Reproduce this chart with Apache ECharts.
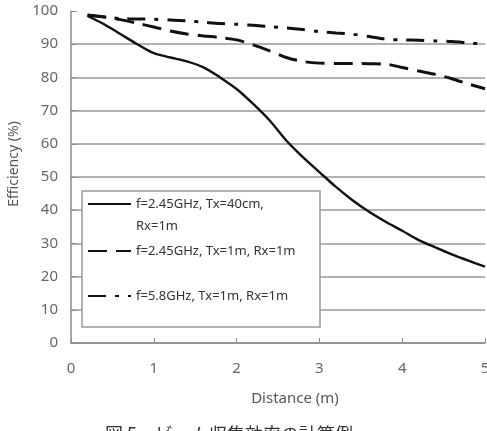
<!DOCTYPE html>
<html>
<head>
<meta charset="utf-8">
<script src="https://cdn.jsdelivr.net/npm/echarts@6/dist/echarts.min.js"></script>
<style>
  html, body { margin: 0; padding: 0; background: #fff; }
  #chart { width: 487px; height: 431px; }
</style>
</head>
<body>
<div id="chart"></div>
<script>
// distance (m)
const distance = [0.2, 0.4, 0.6, 0.8, 1.0, 1.2, 1.4, 1.6, 1.8, 2.0, 2.2, 2.4, 2.6,
  2.8, 3.0, 3.2, 3.4, 3.6, 3.8, 4.0, 4.2, 4.4, 4.6, 4.8, 5.0];
// efficiency (%)
const eff245Tx40 = [98.5, 96, 93, 90, 87.3, 86, 84.8, 83, 80, 76.5, 72, 67, 61,
  56, 51.5, 47, 43, 39.5, 36.5, 33.8, 31, 28.8, 26.7, 24.8, 23];
const eff245Tx1 = [98.7, 98.2, 97.4, 96.3, 95.2, 94, 93.1, 92.5, 92, 91.3, 89.8, 88, 86,
  84.8, 84.3, 84.2, 84.2, 84.1, 84, 83, 81.9, 80.9, 79.6, 78, 76.6];
const eff58Tx1 = [98.8, 98.2, 97.7, 97.6, 97.5, 97.3, 97, 96.6, 96.2, 96, 95.7, 95.3, 94.9,
  94.4, 93.8, 93.4, 93, 92.3, 91.5, 91.3, 91.2, 91, 90.8, 90.4, 90];
const seriesNames = [
  "f=2.45GHz, Tx=40cm, Rx=1m",
  "f=2.45GHz, Tx=1m, Rx=1m",
  "f=5.8GHz, Tx=1m, Rx=1m",
];

const chart = echarts.init(document.getElementById("chart"));
const zip = (ys) => distance.map((x, i) => [x, ys[i]]);
const gray = "#8c8c8c";

const legendBase = {
  orient: "vertical",
  left: 87,
  padding: 0,
  itemWidth: 43,
  itemHeight: 14,
  itemStyle: { opacity: 0 },
  textStyle: { color: "#333", fontSize: 13, fontFamily: "Noto Sans", lineHeight: 22 },
};

chart.setOption({
  animation: false,
  title: {
    text: "図 5　ビーム収集効率の計算例",
    left: 100,
    top: 420,
    textStyle: { fontFamily: "Noto Sans CJK JP", fontSize: 18, fontWeight: "normal", color: "#333" },
  },
  grid: { left: 71, right: 2, top: 11, bottom: 88, outerBoundsMode: "none", containLabel: false },
  xAxis: {
    type: "value",
    min: 0,
    max: 5,
    interval: 1,
    name: "Distance (m)",
    nameLocation: "middle",
    nameGap: 48,
    nameTextStyle: { color: "#555", fontSize: 15, fontFamily: "Noto Sans", padding: [0, 0, 0, 34] },
    axisLine: { lineStyle: { color: gray, width: 1.5 } },
    axisTick: { inside: true, length: 5, lineStyle: { color: gray } },
    axisLabel: { color: "#666", fontSize: 15, fontFamily: "Noto Sans", margin: 18 },
    splitLine: { show: false },
  },
  yAxis: {
    type: "value",
    min: 0,
    max: 100,
    interval: 10,
    name: "Efficiency (%)",
    nameLocation: "middle",
    nameGap: 50,
    nameTextStyle: { color: "#555", fontSize: 14, fontFamily: "Noto Sans", padding: [0, 0, 0, 26] },
    axisLine: { show: true, lineStyle: { color: gray, width: 1.5 } },
    axisTick: { show: true, inside: true, length: 6, lineStyle: { color: gray } },
    axisLabel: { color: "#666", fontSize: 15, fontFamily: "Noto Sans", margin: 13 },
    splitLine: { show: true, showMaxLine: false, lineStyle: { color: "#999", width: 1.5 } },
  },
  legend: [
    Object.assign({}, legendBase, {
      top: 171,
      data: [seriesNames[0]],
      formatter: (name) => "\n" + name.replace(", Rx", ",\nRx"),
    }),
    Object.assign({}, legendBase, { top: 240, data: [seriesNames[1]] }),
    Object.assign({}, legendBase, { top: 285, data: [seriesNames[2]] }),
  ],
  graphic: [
    {
      type: "rect",
      z: 3,
      shape: { x: 82, y: 191, width: 238, height: 136 },
      style: { fill: "#fff", stroke: "#999", lineWidth: 1.5 },
    },
  ],
  series: [
    {
      name: seriesNames[0],
      type: "line",
      symbol: "none",
      smooth: 0.3,
      data: zip(eff245Tx40),
      lineStyle: { color: "#111", width: 2.4 },
      itemStyle: { color: "#111" },
    },
    {
      name: seriesNames[1],
      type: "line",
      symbol: "none",
      smooth: 0.3,
      data: zip(eff245Tx1),
      lineStyle: { color: "#111", width: 3, type: [19, 9] },
      itemStyle: { color: "#111" },
    },
    {
      name: seriesNames[2],
      type: "line",
      symbol: "none",
      smooth: 0.3,
      data: zip(eff58Tx1),
      lineStyle: { color: "#111", width: 3, type: [18, 9, 4, 9] },
      itemStyle: { color: "#111" },
    },
  ],
});
</script>
</body>
</html>
